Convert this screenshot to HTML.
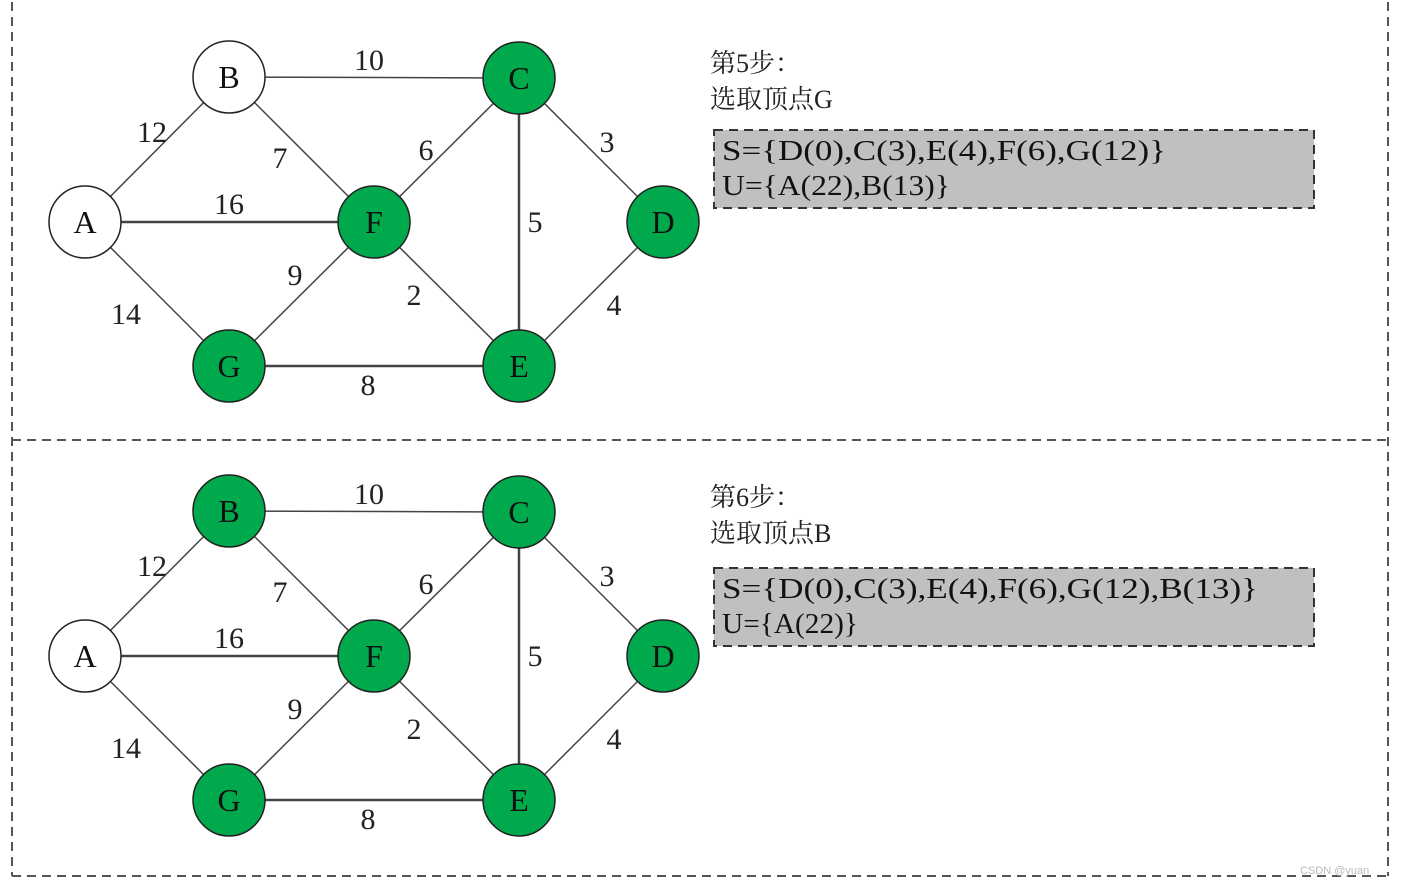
<!DOCTYPE html>
<html><head><meta charset="utf-8"><style>html,body{margin:0;padding:0;background:#fff;}</style></head>
<body>
<svg width="1402" height="887" viewBox="0 0 1402 887" xmlns="http://www.w3.org/2000/svg" font-family="'Liberation Serif','Noto Serif CJK SC',serif">
<g stroke="#555" stroke-width="2" stroke-dasharray="9,6" fill="none">
<line x1="12" y1="2" x2="12" y2="876"/>
<line x1="1388" y1="2" x2="1388" y2="876"/>
<line x1="12" y1="440" x2="1388" y2="440"/>
<line x1="12" y1="876" x2="1388" y2="876"/>
</g>
<defs>
<g id="edges" stroke="#444" stroke-width="1.5">
<line x1="229" y1="77" x2="519" y2="78"/>
<line x1="85" y1="222" x2="229" y2="77"/>
<line x1="229" y1="77" x2="374" y2="222"/>
<line x1="85" y1="222" x2="374" y2="222" stroke-width="2.5"/>
<line x1="85" y1="222" x2="229" y2="366"/>
<line x1="374" y1="222" x2="519" y2="78"/>
<line x1="374" y1="222" x2="229" y2="366"/>
<line x1="374" y1="222" x2="519" y2="366"/>
<line x1="519" y1="78" x2="519" y2="366" stroke-width="2.5"/>
<line x1="519" y1="78" x2="663" y2="222"/>
<line x1="663" y1="222" x2="519" y2="366"/>
<line x1="229" y1="366" x2="519" y2="366" stroke-width="2.5"/>
</g>
<g id="wts" font-size="30" fill="#222" text-anchor="middle">
<text x="369" y="70">10</text>
<text x="152" y="142">12</text>
<text x="280" y="168">7</text>
<text x="229" y="214">16</text>
<text x="426" y="160">6</text>
<text x="607" y="152">3</text>
<text x="535" y="232">5</text>
<text x="295" y="285">9</text>
<text x="126" y="324">14</text>
<text x="414" y="305">2</text>
<text x="614" y="315">4</text>
<text x="368" y="395">8</text>
</g>
</defs>
<!-- Panel 1 -->
<use href="#edges"/>
<use href="#wts"/>
<g stroke="#222" stroke-width="1.5" font-size="32" text-anchor="middle">
<ellipse cx="229" cy="77" rx="36" ry="36" fill="#fff"/>
<ellipse cx="85" cy="222" rx="36" ry="36" fill="#fff"/>
<ellipse cx="519" cy="78" rx="36" ry="36" fill="#00a94b"/>
<ellipse cx="374" cy="222" rx="36" ry="36" fill="#00a94b"/>
<ellipse cx="663" cy="222" rx="36" ry="36" fill="#00a94b"/>
<ellipse cx="229" cy="366" rx="36" ry="36" fill="#00a94b"/>
<ellipse cx="519" cy="366" rx="36" ry="36" fill="#00a94b"/>
</g>
<g font-size="32" fill="#111" text-anchor="middle">
<text x="229" y="88">B</text><text x="85" y="233">A</text><text x="519" y="89">C</text>
<text x="374" y="233">F</text><text x="663" y="233">D</text><text x="229" y="377">G</text><text x="519" y="377">E</text>
</g>
<text x="710" y="72" font-size="26" fill="#222">第5步：</text>
<text x="710" y="108" font-size="26" fill="#222">选取顶点G</text>
<rect x="714" y="130" width="600" height="78" fill="#c0c0c0" stroke="#333" stroke-width="2" stroke-dasharray="9,6"/>
<text x="722" y="160" font-size="28" fill="#111" textLength="444" lengthAdjust="spacingAndGlyphs">S={D(0),C(3),E(4),F(6),G(12)}</text>
<text x="722" y="195" font-size="28" fill="#111" textLength="228" lengthAdjust="spacingAndGlyphs">U={A(22),B(13)}</text>
<!-- Panel 2 -->
<g transform="translate(0,434)">
<use href="#edges"/>
<use href="#wts"/>
<g stroke="#222" stroke-width="1.5">
<ellipse cx="229" cy="77" rx="36" ry="36" fill="#00a94b"/>
<ellipse cx="85" cy="222" rx="36" ry="36" fill="#fff"/>
<ellipse cx="519" cy="78" rx="36" ry="36" fill="#00a94b"/>
<ellipse cx="374" cy="222" rx="36" ry="36" fill="#00a94b"/>
<ellipse cx="663" cy="222" rx="36" ry="36" fill="#00a94b"/>
<ellipse cx="229" cy="366" rx="36" ry="36" fill="#00a94b"/>
<ellipse cx="519" cy="366" rx="36" ry="36" fill="#00a94b"/>
</g>
<g font-size="32" fill="#111" text-anchor="middle">
<text x="229" y="88">B</text><text x="85" y="233">A</text><text x="519" y="89">C</text>
<text x="374" y="233">F</text><text x="663" y="233">D</text><text x="229" y="377">G</text><text x="519" y="377">E</text>
</g>
<text x="710" y="72" font-size="26" fill="#222">第6步：</text>
<text x="710" y="108" font-size="26" fill="#222">选取顶点B</text>
<rect x="714" y="134" width="600" height="78" fill="#c0c0c0" stroke="#333" stroke-width="2" stroke-dasharray="9,6"/>
<text x="722" y="164" font-size="28" fill="#111" textLength="536" lengthAdjust="spacingAndGlyphs">S={D(0),C(3),E(4),F(6),G(12),B(13)}</text>
<text x="722" y="199" font-size="28" fill="#111" textLength="136" lengthAdjust="spacingAndGlyphs">U={A(22)}</text>
</g>
<text x="1300" y="874" font-size="11" fill="#bbb" font-family="'Liberation Sans',sans-serif">CSDN @yuan</text>
</svg>
</body></html>
